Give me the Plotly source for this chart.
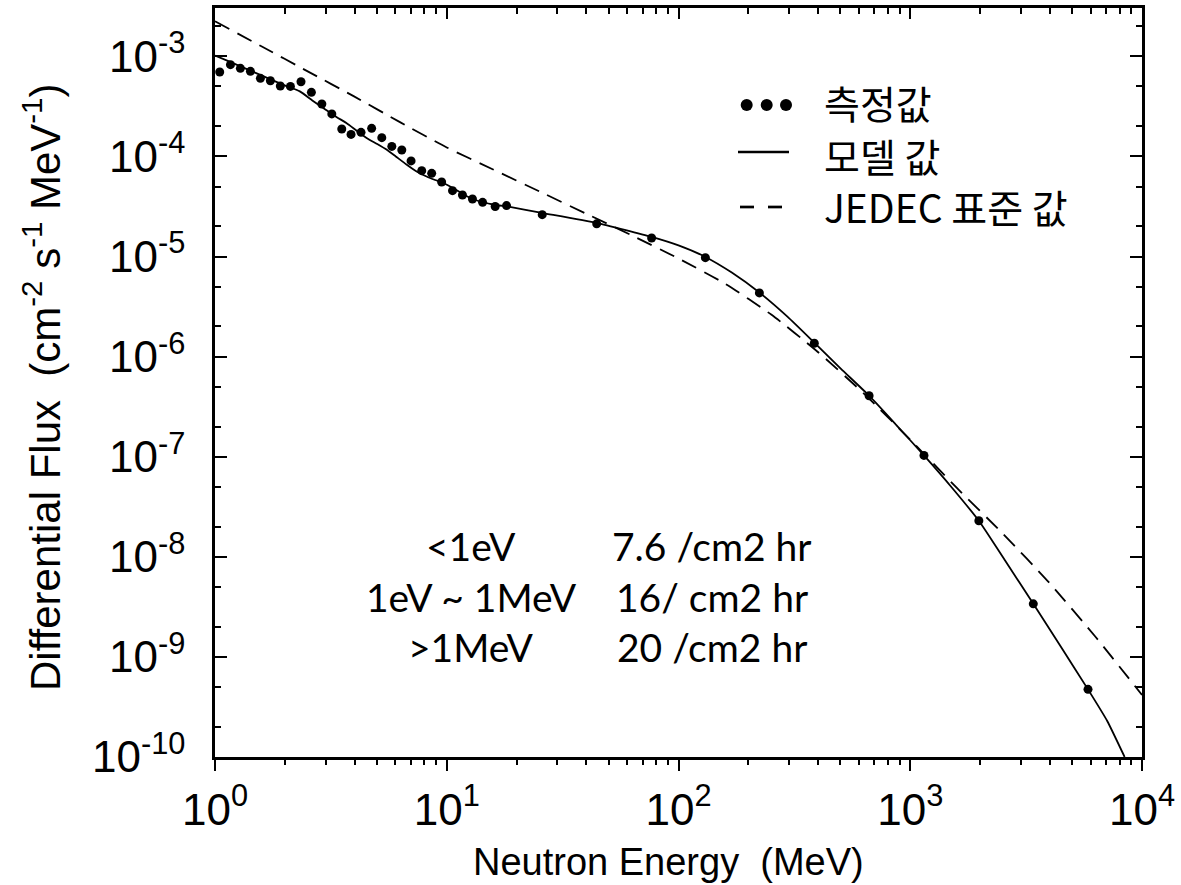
import plotly.graph_objects as go

# ---------------- data ----------------
meas_E = [1.048, 1.166, 1.287, 1.422, 1.570, 1.734, 1.914, 2.116, 2.350, 2.606,
          2.891, 3.192, 3.524, 3.864, 4.266, 4.742, 5.245, 5.794, 6.397, 7.015,
          7.798, 8.610, 9.506, 10.59, 11.69, 12.91, 14.28, 16.18, 18.11, 25.82,
          44.36, 76.56, 130.6, 223.4, 385.5, 664.5, 1146, 1977, 3396, 5848]
meas_F = [6.98e-4, 8.26e-4, 7.59e-4, 7.08e-4, 6.03e-4, 5.71e-4, 5.06e-4, 5.01e-4, 5.58e-4, 4.37e-4,
          3.34e-4, 2.66e-4, 1.88e-4, 1.66e-4, 1.74e-4, 1.91e-4, 1.54e-4, 1.26e-4, 1.16e-4, 9.02e-5,
          7.21e-5, 6.78e-5, 5.56e-5, 4.55e-5, 4.12e-5, 3.76e-5, 3.48e-5, 3.16e-5, 3.23e-5, 2.62e-5,
          2.12e-5, 1.53e-5, 9.75e-6, 4.33e-6, 1.36e-6, 4.07e-7, 1.03e-7, 2.29e-8, 3.39e-9, 4.74e-10]

model_E = [1.0, 1.122, 1.259, 1.413, 1.585, 1.778, 1.995, 2.323, 2.630, 2.951,
           3.342, 3.690, 4.074, 4.508, 5.012, 5.495, 6.026, 6.699, 7.413, 8.185,
           8.913, 9.661, 10.72, 12.02, 13.49, 15.85, 18.71, 26.06, 44.36, 76.56,
           100.0, 130.6, 169.8, 223.4, 295.1, 385.5, 501.2, 664.5, 871.0, 1146,
           1514, 1977, 2570, 3396, 4467, 5848, 7079, 8414]
model_F = [1.02e-3, 9.12e-4, 8.13e-4, 7.24e-4, 6.46e-4, 5.75e-4, 5.13e-4, 4.47e-4, 3.63e-4, 3.02e-4,
           2.48e-4, 2.16e-4, 1.82e-4, 1.53e-4, 1.33e-4, 1.17e-4, 1.00e-4, 8.32e-5, 7.08e-5, 6.31e-5,
           5.82e-5, 5.43e-5, 4.79e-5, 4.07e-5, 3.63e-5, 3.31e-5, 3.13e-5, 2.72e-5, 2.17e-5, 1.57e-5,
           1.29e-5, 9.91e-6, 6.92e-6, 4.37e-6, 2.51e-6, 1.38e-6, 7.59e-7, 4.07e-7, 2.07e-7, 1.03e-7,
           4.90e-8, 2.29e-8, 9.12e-9, 3.39e-9, 1.26e-9, 4.74e-10, 2.29e-10, 1.0e-10]

jedec_E = [1.0, 1.585, 2.512, 3.981, 6.310, 10.0, 15.85, 25.12, 39.81, 63.10,
           100.0, 158.5, 251.2, 398.1, 631.0, 1000, 1585, 2512, 3981, 6310, 10000]
jedec_F = [2.24e-3, 1.26e-3, 7.08e-4, 3.98e-4, 2.19e-4, 1.23e-4, 7.41e-5, 4.47e-5, 2.69e-5, 1.62e-5,
           9.55e-6, 5.37e-6, 2.63e-6, 1.12e-6, 4.27e-7, 1.48e-7, 4.90e-8, 1.70e-8, 5.50e-9, 1.58e-9, 4.17e-10]

x_tickvals = [1, 10, 100, 1000, 10000]
x_ticktext = ["10<sup>0</sup>", "10<sup>1</sup>", "10<sup>2</sup>", "10<sup>3</sup>", "10<sup>4</sup>"]
y_tickvals = [1e-10, 1e-9, 1e-8, 1e-7, 1e-6, 1e-5, 1e-4, 1e-3]
y_ticktext = ["10<sup>-10</sup>", "10<sup>-9</sup>", "10<sup>-8</sup>", "10<sup>-7</sup>",
              "10<sup>-6</sup>", "10<sup>-5</sup>", "10<sup>-4</sup>", "10<sup>-3</sup>"]

x_title = "Neutron Energy  (MeV)"
y_title = "Differential Flux  (cm<sup>-2</sup> s<sup>-1</sup> MeV<sup>-1</sup>)"
legend_labels = ["측정값", "모델 값", "JEDEC 표준 값"]
stats_range = ["<1eV", "1eV ~ 1MeV", ">1MeV"]
stats_flux = ["7.6 /cm2 hr", "16/ cm2 hr", "20 /cm2 hr"]

# ---------------- figure ----------------
W, H = 1181, 885
ML, MR, MT, MB = 215, 39, 8, 128
PW, PH = W - ML - MR, H - MT - MB

def px2paper(px, py):
    return (px - ML) / PW, (H - MB - py) / PH

x_minor = [m * 10 ** d for d in range(0, 4) for m in range(2, 10)]
y_minor = [m * 10.0 ** d for d in range(-10, -2) for m in (2, 5)]

AX_FAMILY = "Liberation Sans Narrow, Arial Narrow, Liberation Sans, Arial"
TICK_FONT = dict(family=AX_FAMILY, size=44, color="black")

fig = go.Figure()
fig.add_trace(go.Scatter(x=jedec_E, y=jedec_F, mode="lines", line=dict(color="black", width=1.8, dash="16px,9px", shape="spline", smoothing=0.6), showlegend=False, hoverinfo="skip"))
fig.add_trace(go.Scatter(x=model_E, y=model_F, mode="lines", line=dict(color="black", width=1.8, shape="spline", smoothing=0.5), showlegend=False, hoverinfo="skip"))
fig.add_trace(go.Scatter(x=meas_E, y=meas_F, mode="markers", marker=dict(color="black", size=9), showlegend=False, hoverinfo="skip"))
fig.add_trace(go.Scatter(x=[], y=[], xaxis="x2", showlegend=False, hoverinfo="skip"))

fig.update_layout(
    width=W, height=H, autosize=False,
    margin=dict(l=ML, r=MR, t=MT, b=MB, autoexpand=False),
    paper_bgcolor="white", plot_bgcolor="white",
    xaxis=dict(type="log", range=[0, 4], tickmode="array", tickvals=x_tickvals, ticktext=x_ticktext,
               ticks="outside", ticklen=11, tickwidth=2, tickcolor="black",
               showline=True, linewidth=2.5, linecolor="black", mirror=True, automargin=False,
               showgrid=False, zeroline=False, tickfont=TICK_FONT, ticklabelstandoff=1,
               minor=dict(tickmode="array", tickvals=x_minor, ticks="outside", ticklen=5, tickwidth=1.5, tickcolor="black", showgrid=False)),
    xaxis2=dict(type="log", range=[0, 4], overlaying="x", side="top", anchor="y", automargin=False,
                tickmode="array", tickvals=x_tickvals, showticklabels=False,
                ticks="inside", ticklen=11, tickwidth=2, tickcolor="black",
                showline=False, showgrid=False, zeroline=False,
                minor=dict(tickmode="array", tickvals=x_minor, ticks="inside", ticklen=6, tickwidth=1.5, tickcolor="black", showgrid=False)),
    yaxis=dict(type="log", range=[-10, -2.517], tickmode="array", tickvals=y_tickvals, ticktext=y_ticktext,
               ticks="inside", ticklen=12, tickwidth=2, tickcolor="black",
               showline=True, linewidth=2.5, linecolor="black", mirror="ticks", automargin=False,
               showgrid=False, zeroline=False, tickfont=TICK_FONT, ticklabelstandoff=18,
               minor=dict(tickmode="array", tickvals=y_minor, ticks="inside", ticklen=6, tickwidth=1.5, tickcolor="black", showgrid=False)),
)

# axis titles as annotations (precise placement)
xp, yp = px2paper(668, 862)
fig.add_annotation(text=x_title, xref="paper", yref="paper", x=xp, y=yp, xanchor="center", yanchor="middle",
                   showarrow=False, font=dict(family=AX_FAMILY, size=38, color="black"))
xp, yp = px2paper(42, 388)
fig.add_annotation(text=y_title, xref="paper", yref="paper", x=xp, y=yp, xanchor="center", yanchor="middle",
                   textangle=-90, showarrow=False, font=dict(family=AX_FAMILY, size=42, color="black"))

# ---------------- legend (drawn manually) ----------------
shapes = []
for cx in (746.7, 766.7, 786.0):
    ax_, ay_ = px2paper(cx, 105)
    shapes.append(dict(type="circle", xref="paper", yref="paper", xsizemode="pixel", ysizemode="pixel",
                       xanchor=ax_, yanchor=ay_, x0=-6, x1=6, y0=-6, y1=6,
                       fillcolor="black", line=dict(color="black", width=0)))
x0p, y1p = px2paper(738, 152)
x1p, _ = px2paper(789, 152)
shapes.append(dict(type="line", xref="paper", yref="paper", x0=x0p, x1=x1p, y0=y1p, y1=y1p, line=dict(color="black", width=2.7)))
for a, b in ((740, 754), (768, 782)):
    xa, yd = px2paper(a, 207)
    xb, _ = px2paper(b, 207)
    shapes.append(dict(type="line", xref="paper", yref="paper", x0=xa, x1=xb, y0=yd, y1=yd, line=dict(color="black", width=2.7)))
fig.update_layout(shapes=shapes)

LEG_FONT = dict(family="Noto Sans CJK KR", size=39, color="black")
for label, py in zip(legend_labels, (102, 155, 206)):
    xp, yp = px2paper(822, py)
    fig.add_annotation(text=label, xref="paper", yref="paper", x=xp, y=yp, xanchor="left", yanchor="middle",
                       showarrow=False, font=LEG_FONT)

STAT_FONT = dict(family="Lato, Noto Sans", size=39, color="black")
for r, f, py in zip(stats_range, stats_flux, (546, 597, 647)):
    xp, yp = px2paper(471, py)
    fig.add_annotation(text=r, xref="paper", yref="paper", x=xp, y=yp, xanchor="center", yanchor="middle",
                       showarrow=False, font=STAT_FONT)
    xp, yp = px2paper(712, py)
    fig.add_annotation(text=f, xref="paper", yref="paper", x=xp, y=yp, xanchor="center", yanchor="middle",
                       showarrow=False, font=STAT_FONT)

# remove the default 8px page margin so the figure sits at the window's top-left corner
fig.write_html("out.html", config={"displayModeBar": False},
               post_script="document.body.style.margin='0';document.body.style.overflow='hidden';")
